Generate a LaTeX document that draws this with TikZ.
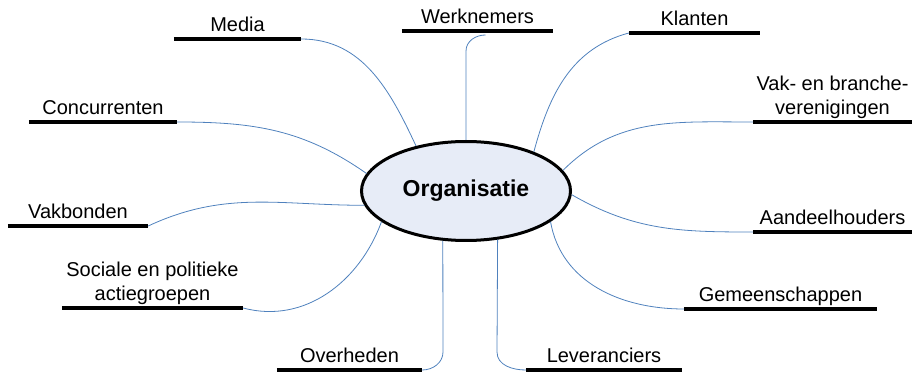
\documentclass[tikz,border=0pt]{standalone}
\usepackage{fontspec}
\setmainfont{Liberation Sans}
\usetikzlibrary{shapes.geometric}
\definecolor{linkblue}{HTML}{4F81BD}
\definecolor{orgfill}{HTML}{E7ECF7}
\tikzstyle{lbl}=[font=\fontsize{20}{24}\selectfont,inner xsep=0pt,inner ysep=7pt,text depth=0pt,anchor=south,align=center]
\tikzstyle{uline}=[line width=3.5pt]
\tikzstyle{link}=[draw=linkblue,line width=0.8pt]

\begin{document}
\begin{tikzpicture}[x=1pt, y=1pt]
	\useasboundingbox (0,0) rectangle (912,372);
	\node (org) [ellipse, draw, line width=3pt, fill=orgfill, minimum width=209pt, minimum height=99pt,
		inner sep=0pt, font=\fontsize{23}{27}\selectfont\bfseries] at (466,181) {Organisatie};
	\node (media) [lbl, minimum width=127pt] at (237.5,333) {Media};
	\node (werk) [lbl, minimum width=151pt] at (477.5,341) {Werknemers};
	\node (klant) [lbl, minimum width=131pt] at (694.5,339) {Klanten};
	\node (conc) [lbl, minimum width=148pt] at (103,250) {Concurrenten};
	\node (vakbr) [lbl, minimum width=159pt] at (832.5,250) {Vak- en branche-\\verenigingen};
	\node (vakb) [lbl, minimum width=140pt] at (78,146) {Vakbonden};
	\node (aand) [lbl, minimum width=159pt] at (832.5,140) {Aandeelhouders};
	\node (soc) [lbl, minimum width=181pt] at (152.5,64) {Sociale en politieke\\actiegroepen};
	\node (gem) [lbl, minimum width=193pt] at (780.5,63) {Gemeenschappen};
	\node (over) [lbl, minimum width=145pt] at (349.5,2) {Overheden};
	\node (lev) [lbl, minimum width=156pt] at (604,2) {Leveranciers};
	\foreach \n in {media,werk,klant,conc,vakbr,vakb,aand,soc,gem,over,lev}
		\draw[uline] (\n.south west) -- (\n.south east);
	\draw[link] (media.south east) to[out=0,in=115] (org.138);
	\draw[link] ([xshift=8pt,yshift=-4pt]werk.south) to[out=180,in=90] (466,321) -- (org.90);
	\draw[link] (klant.south west) to[out=195,in=75] (org.30);
	\draw[link] (conc.south east) to[out=0,in=145] (org.170);
	\draw[link] (vakb.south east) to[out=25,in=180] (org.188);
	\draw[link] (soc.south east) to[out=-15,in=250] (org.200);
	\draw[link] (over.south east) to[out=0,in=-90] (443,20) -- (org.245);
	\draw[link] (lev.south west) to[out=180,in=-90] (497,20) -- (org.303);
	\draw[link] (gem.south west) to[out=180,in=-80] (org.340);
	\draw[link] (aand.south west) to[out=180,in=-30] (org.-2);
	\draw[link] (vakbr.south west) to[out=180,in=45] (org.12);
\end{tikzpicture}
\end{document}
